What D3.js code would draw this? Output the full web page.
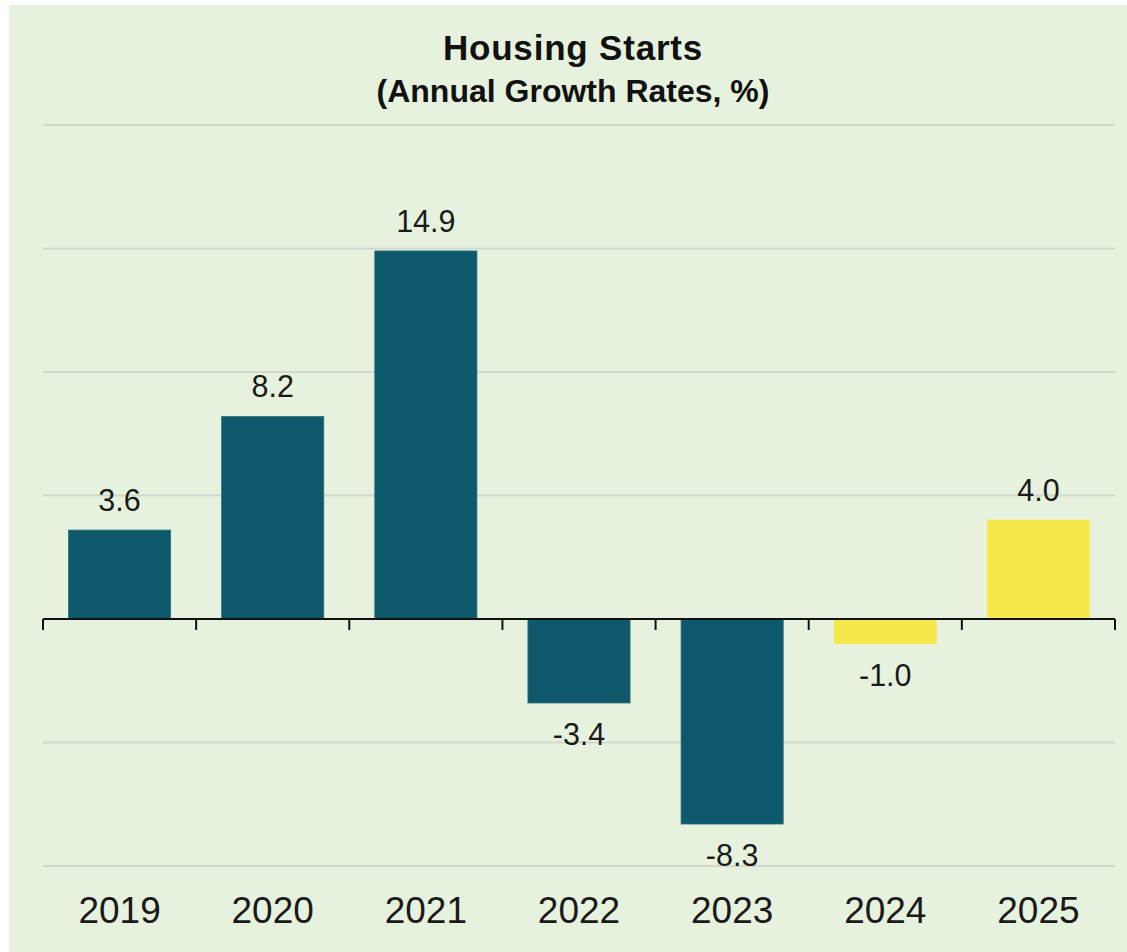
<!DOCTYPE html>
<html><head><meta charset="utf-8">
<script src="https://cdn.jsdelivr.net/npm/d3@7"></script>
<style>body{margin:0;background:#fff;}svg{display:block;}</style>
</head><body>
<script>
const years = ["2019","2020","2021","2022","2023","2024","2025"];
const values = [3.6, 8.2, 14.9, -3.4, -8.3, -1.0, 4.0];
const forecast = [false,false,false,false,false,true,true];
const yTicks = [-10,-5,0,5,10,15,20];
const title = "Housing Starts";
const subtitle = "(Annual Growth Rates, %)";

const W=1127,H=952;
const FONT="Liberation Sans, Arial, Helvetica, sans-serif";
const svg=d3.select("body").append("svg").attr("width",W).attr("height",H);
svg.append("rect").attr("x",9).attr("y",5).attr("width",W-9).attr("height",H-5).attr("fill","#e6f2dd");

const x=d3.scaleBand().domain(years).range([43,1115]).paddingInner(0.333).paddingOuter(0.1665);
const y=d3.scaleLinear().domain([-10,20]).range([866,125]);

svg.append("g").selectAll("line").data(yTicks.filter(d=>d!==0)).join("line")
 .attr("x1",43).attr("x2",1115).attr("y1",d=>y(d)).attr("y2",d=>y(d))
 .attr("stroke","#d3d8cf").attr("stroke-width",2);

const data=years.map((yr,i)=>({yr,v:values[i],f:forecast[i]}));
svg.append("g").selectAll("rect").data(data).join("rect")
 .attr("x",d=>x(d.yr)).attr("width",x.bandwidth())
 .attr("y",d=>y(Math.max(0,d.v))).attr("height",d=>Math.abs(y(d.v)-y(0)))
 .attr("fill",d=>d.f?"#f6e84a":"#0d596b")
 .attr("stroke",d=>d.f?"#f6e84a":"#2b7282").attr("stroke-width",0.8);

const step=x.step();
const bounds=d3.range(years.length+1).map(i=>43+i*step);
svg.append("line").attr("x1",43).attr("x2",1115).attr("y1",y(0)).attr("y2",y(0)).attr("stroke","#111").attr("stroke-width",2);
svg.append("g").selectAll("line").data(bounds).join("line")
 .attr("x1",d=>d).attr("x2",d=>d).attr("y1",y(0)).attr("y2",y(0)+11)
 .attr("stroke","#111").attr("stroke-width",2);

svg.append("g").selectAll("text").data(data).join("text")
 .attr("x",d=>x(d.yr)+x.bandwidth()/2)
 .attr("y",d=>d.v>=0?y(d.v)-19:y(d.v)+42)
 .attr("text-anchor","middle").attr("font-family",FONT)
 .attr("font-size",30.5).attr("fill","#1a1a1a").text(d=>d.v.toFixed(1));

svg.append("g").selectAll("text").data(years).join("text")
 .attr("x",d=>x(d)+x.bandwidth()/2).attr("y",922.5)
 .attr("text-anchor","middle").attr("font-family",FONT)
 .attr("font-size",37).attr("fill","#1a1a1a").text(d=>d);

svg.append("text").attr("x",573).attr("y",59.5).attr("text-anchor","middle")
 .attr("font-family",FONT).attr("font-weight","bold")
 .attr("font-size",35).attr("letter-spacing",0.8).attr("fill","#111").text(title);
svg.append("text").attr("x",573).attr("y",101.5).attr("text-anchor","middle")
 .attr("font-family",FONT).attr("font-weight","bold")
 .attr("font-size",32).attr("fill","#111").text(subtitle);
</script>
</body></html>
